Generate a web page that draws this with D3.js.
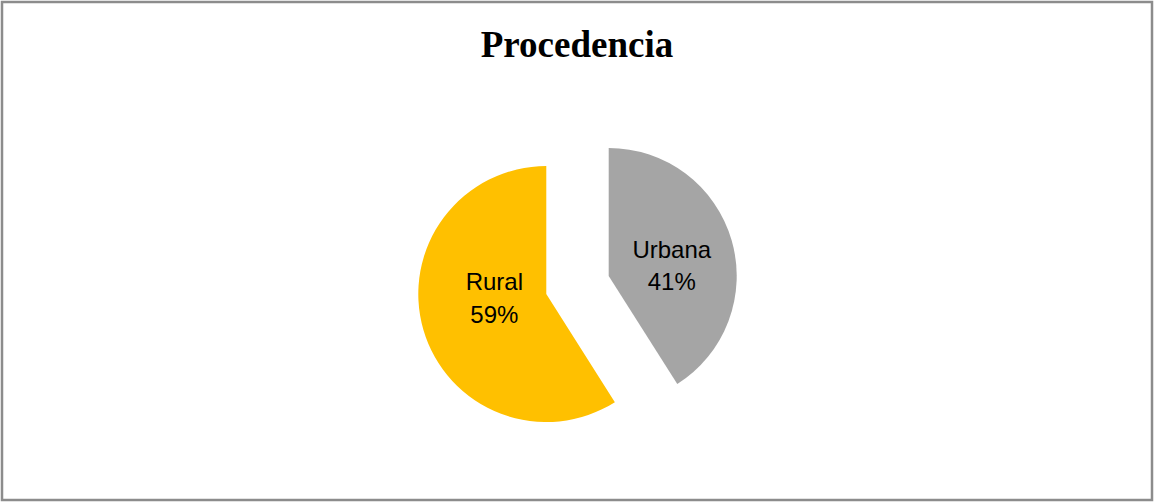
<!DOCTYPE html>
<html>
<head>
<meta charset="utf-8">
<script src="https://cdn.jsdelivr.net/npm/d3@7"></script>
<style>
  html, body { margin: 0; padding: 0; background: #fff; }
  svg { display: block; }
</style>
</head>
<body>
<svg width="1154" height="502"></svg>
<script>
// chart data
const categories = ['Urbana', 'Rural'];
const values = [41, 59];
const colors = ['#A5A5A5', '#FFC000'];

const svg = d3.select('svg'),
  width = 1154,
  height = 502;

// outer frame
svg.append('rect')
  .attr('x', 2)
  .attr('y', 2)
  .attr('width', width - 4)
  .attr('height', height - 4)
  .attr('fill', '#fff')
  .attr('stroke', '#8c8c8c')
  .attr('stroke-width', 2.5);

svg.append('text')
  .attr('x', 577)
  .attr('y', 57)
  .attr('text-anchor', 'middle')
  .attr('font-family', '"Liberation Serif", "Times New Roman", serif')
  .attr('font-weight', 'bold')
  .attr('font-size', '37px')
  .attr('fill', '#000')
  .text('Procedencia');

const cx = 577.5, cy = 285;
const radius = 128;
const explode = 32.5;

const pieData = d3.pie()
  .sort(null)
  .value((d, i) => values[i])(categories);

const arc = d3.arc().innerRadius(0).outerRadius(radius);

// small nudges so labels sit like the original best-fit placement
const labelNudge = { Urbana: [1.6, 4.7], Rural: [9.5, -17] };

const slices = svg.selectAll('.slice')
  .data(pieData)
  .enter()
  .append('g')
  .attr('class', 'slice')
  .attr('transform', (d) => {
    const mid = (d.startAngle + d.endAngle) / 2;
    const x = cx + explode * Math.sin(mid);
    const y = cy - explode * Math.cos(mid);
    return `translate(${x},${y})`;
  });

slices.append('path')
  .attr('d', arc)
  .attr('fill', (d, i) => colors[i]);

const labels = slices.append('text')
  .attr('text-anchor', 'middle')
  .attr('font-family', '"Liberation Sans", Arial, sans-serif')
  .attr('font-size', '24px')
  .attr('fill', '#000')
  .attr('transform', (d) => {
    const mid = (d.startAngle + d.endAngle) / 2;
    const r = radius * 0.5;
    const n = labelNudge[d.data] || [0, 0];
    return `translate(${r * Math.sin(mid) + n[0]},${-r * Math.cos(mid) + n[1]})`;
  });

labels.append('tspan')
  .attr('x', 0)
  .attr('dy', '-0.2em')
  .text((d) => d.data);

labels.append('tspan')
  .attr('x', 0)
  .attr('dy', '1.35em')
  .text((d) => Math.round(d.value) + '%');
</script>
</body>
</html>
